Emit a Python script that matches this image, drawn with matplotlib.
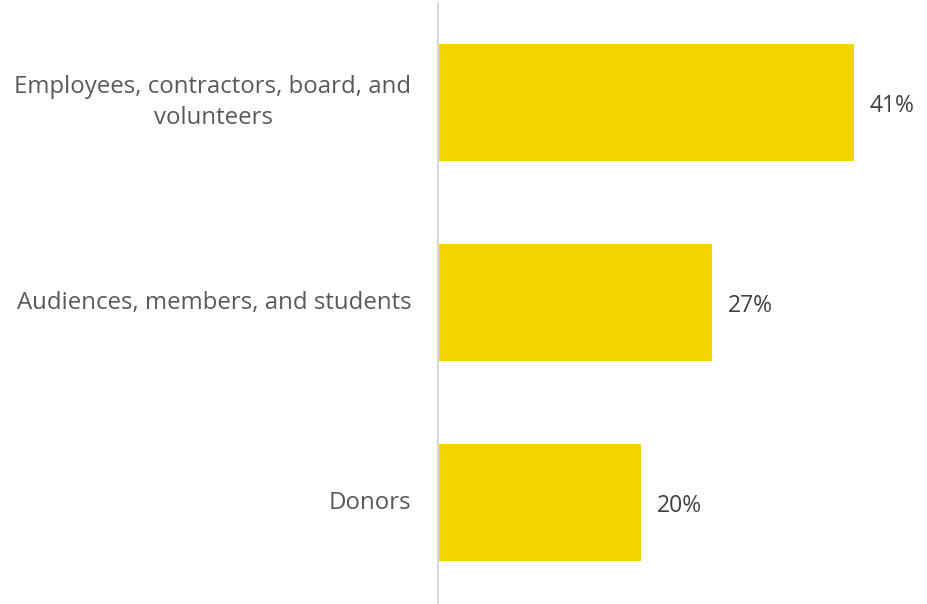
import matplotlib.pyplot as plt

categories = ["Employees, contractors, board, and\nvolunteers",
              "Audiences, members, and students",
              "Donors"]
values = [41, 27, 20]
value_labels = ["41%", "27%", "20%"]

plt.rcParams['font.family'] = ['Open Sans', 'DejaVu Sans']

fig = plt.figure(figsize=(9.27, 6.04), dpi=100)
ax = fig.add_axes([438 / 927, 0, 1 - 438 / 927, 601 / 604])

pos = list(range(len(categories)))
ax.barh(pos, values, height=0.585, color='#F0D500', zorder=2)
ax.set_ylim(2.5075, -0.4975)
ax.set_xlim(0, 48.2)

# value labels, 16 px right of bar end
for p, v, lab in zip(pos, values, value_labels):
    ax.annotate(lab, (v, p), xytext=(11.5, -2.5), textcoords='offset points',
                va='center', ha='left', fontsize=16.5, color='#404040')

ax.set_yticks(pos)
ax.set_yticklabels(categories, fontsize=17.3, color='#595959',
                   linespacing=1.4, multialignment='center')
for t in ax.get_yticklabels():
    t.set_va('center')
ax.tick_params(axis='y', length=0, pad=19)
ax.set_xticks([])
for s in ['top', 'right', 'bottom']:
    ax.spines[s].set_visible(False)
ax.spines['left'].set_color('#D9D9D9')
ax.spines['left'].set_linewidth(1.5)
ax.spines['left'].set_zorder(3)

fig.savefig('out.png', dpi=100)
